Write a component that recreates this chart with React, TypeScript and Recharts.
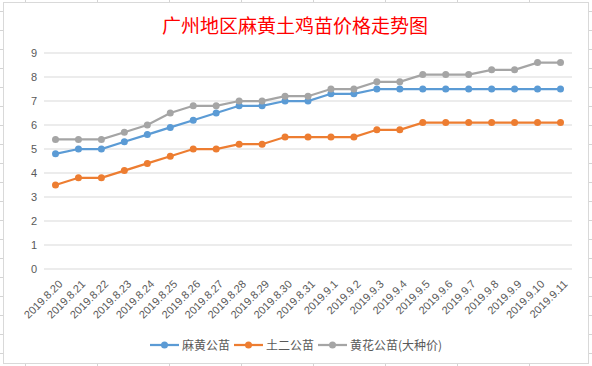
import React from "react";
import { LineChart, Line, XAxis, YAxis, CartesianGrid } from "recharts";

// ==================== DATA ====================

const dates = [
  "2019.8.20", "2019.8.21", "2019.8.22", "2019.8.23", "2019.8.24", "2019.8.25",
  "2019.8.26", "2019.8.27", "2019.8.28", "2019.8.29", "2019.8.30", "2019.8.31",
  "2019.9.1", "2019.9.2", "2019.9.3", "2019.9.4", "2019.9.5", "2019.9.6",
  "2019.9.7", "2019.9.8", "2019.9.9", "2019.9.10", "2019.9.11",
];

const mahuang = [
  4.8, 5.0, 5.0, 5.3, 5.6, 5.9, 6.2, 6.5, 6.8, 6.8, 7.0, 7.0,
  7.3, 7.3, 7.5, 7.5, 7.5, 7.5, 7.5, 7.5, 7.5, 7.5, 7.5,
];

const tuer = [
  3.5, 3.8, 3.8, 4.1, 4.4, 4.7, 5.0, 5.0, 5.2, 5.2, 5.5, 5.5,
  5.5, 5.5, 5.8, 5.8, 6.1, 6.1, 6.1, 6.1, 6.1, 6.1, 6.1,
];

const huanghua = [
  5.4, 5.4, 5.4, 5.7, 6.0, 6.5, 6.8, 6.8, 7.0, 7.0, 7.2, 7.2,
  7.5, 7.5, 7.8, 7.8, 8.1, 8.1, 8.1, 8.3, 8.3, 8.6, 8.6,
];

const yTicks = [0, 1, 2, 3, 4, 5, 6, 7, 8, 9];

const series = [
  { key: "mahuang", name: "麻黄公苗", color: "#5B9BD5" },
  { key: "tuer", name: "土二公苗", color: "#ED7D31" },
  { key: "huanghua", name: "黄花公苗(大种价)", color: "#A5A5A5" },
];

const data = dates.map((date, i) => ({
  date,
  mahuang: mahuang[i],
  tuer: tuer[i],
  huanghua: huanghua[i],
}));

const TEXT = "#595959";
const GRID = "#D9D9D9";

// ==================== X TICK ====================

const DateTick = ({ x, y, payload }: any) => (
  <g transform={`translate(${x + 5},${y + 13})`}>
    <text
      x={0}
      y={0}
      dy="0.35em"
      textAnchor="end"
      transform="rotate(-45)"
      fill={TEXT}
      fontSize={11}
      fontFamily="'Liberation Sans', Arial, sans-serif"
    >
      {payload.value}
    </text>
  </g>
);

// ==================== LEGEND ====================

const ChartLegend = () => (
  <div
    style={{
      position: "absolute",
      left: 0,
      top: 336,
      width: 592,
      display: "flex",
      justifyContent: "center",
      alignItems: "center",
      gap: 4,
      fontSize: 12,
      color: TEXT,
      fontFamily: "'Noto Sans CJK SC', sans-serif",
      lineHeight: "18px",
    }}
  >
    {series.map((s) => (
      <div key={s.key} style={{ display: "flex", alignItems: "center" }}>
        <svg width={29} height={10} style={{ marginRight: 3 }}>
          <line x1={0} y1={5} x2={29} y2={5} stroke={s.color} strokeWidth={2.25} />
          <circle cx={14.5} cy={5} r={3.5} fill={s.color} />
        </svg>
        <span>{s.name}</span>
      </div>
    ))}
  </div>
);

// ==================== APP ====================

export default function App() {
  return (
    <div
      style={{
        position: "absolute",
        left: 0,
        top: 0,
        width: 592,
        height: 366,
        overflow: "hidden",
        backgroundColor: "#fff",
        backgroundImage:
          "repeating-linear-gradient(to right, transparent 0 25px, #D4D4D4 25px 26px, transparent 26px 72px), repeating-linear-gradient(to bottom, transparent 0 11px, #D4D4D4 11px 12px, transparent 12px 19px)",
        backgroundSize: "72px 100%, 100% 19px",
      }}
    >
      <div
        style={{
          position: "absolute",
          left: 3,
          top: 2,
          width: 584,
          height: 360,
          border: `1px solid ${GRID}`,
          backgroundColor: "#fff",
        }}
      />
      <div
        style={{
          position: "absolute",
          left: 0,
          top: 12,
          width: 590,
          textAlign: "center",
          color: "#FF0000",
          fontSize: 19,
          lineHeight: "26px",
          fontFamily: "'Noto Sans CJK SC', sans-serif",
        }}
      >
        广州地区麻黄土鸡苗价格走势图
      </div>
      <div style={{ position: "absolute", left: 0, top: 0 }}>
        <LineChart
          width={592}
          height={366}
          data={data}
          margin={{ top: 53, right: 20, bottom: 37, left: 0 }}
        >
          <CartesianGrid vertical={false} stroke={GRID} />
          <XAxis
            dataKey="date"
            interval={0}
            tickLine={false}
            axisLine={false}
            tickSize={0}
            tickMargin={0}
            height={60}
            padding={{ left: 11.5, right: 11.5 }}
            tick={<DateTick />}
          />
          <YAxis
            domain={[0, 9]}
            ticks={yTicks}
            width={44}
            tickLine={false}
            axisLine={false}
            tickSize={0}
            tickMargin={7}
            tick={{
              fill: TEXT,
              fontSize: 11,
              fontFamily: "'Liberation Sans', Arial, sans-serif",
            }}
          />
          {series.map((s) => (
            <Line
              key={s.key}
              type="linear"
              dataKey={s.key}
              name={s.name}
              stroke={s.color}
              strokeWidth={2.25}
              dot={{ r: 3.5, fill: s.color, stroke: s.color, strokeWidth: 0 }}
              activeDot={false}
              isAnimationActive={false}
            />
          ))}
        </LineChart>
      </div>
      <ChartLegend />
    </div>
  );
}
